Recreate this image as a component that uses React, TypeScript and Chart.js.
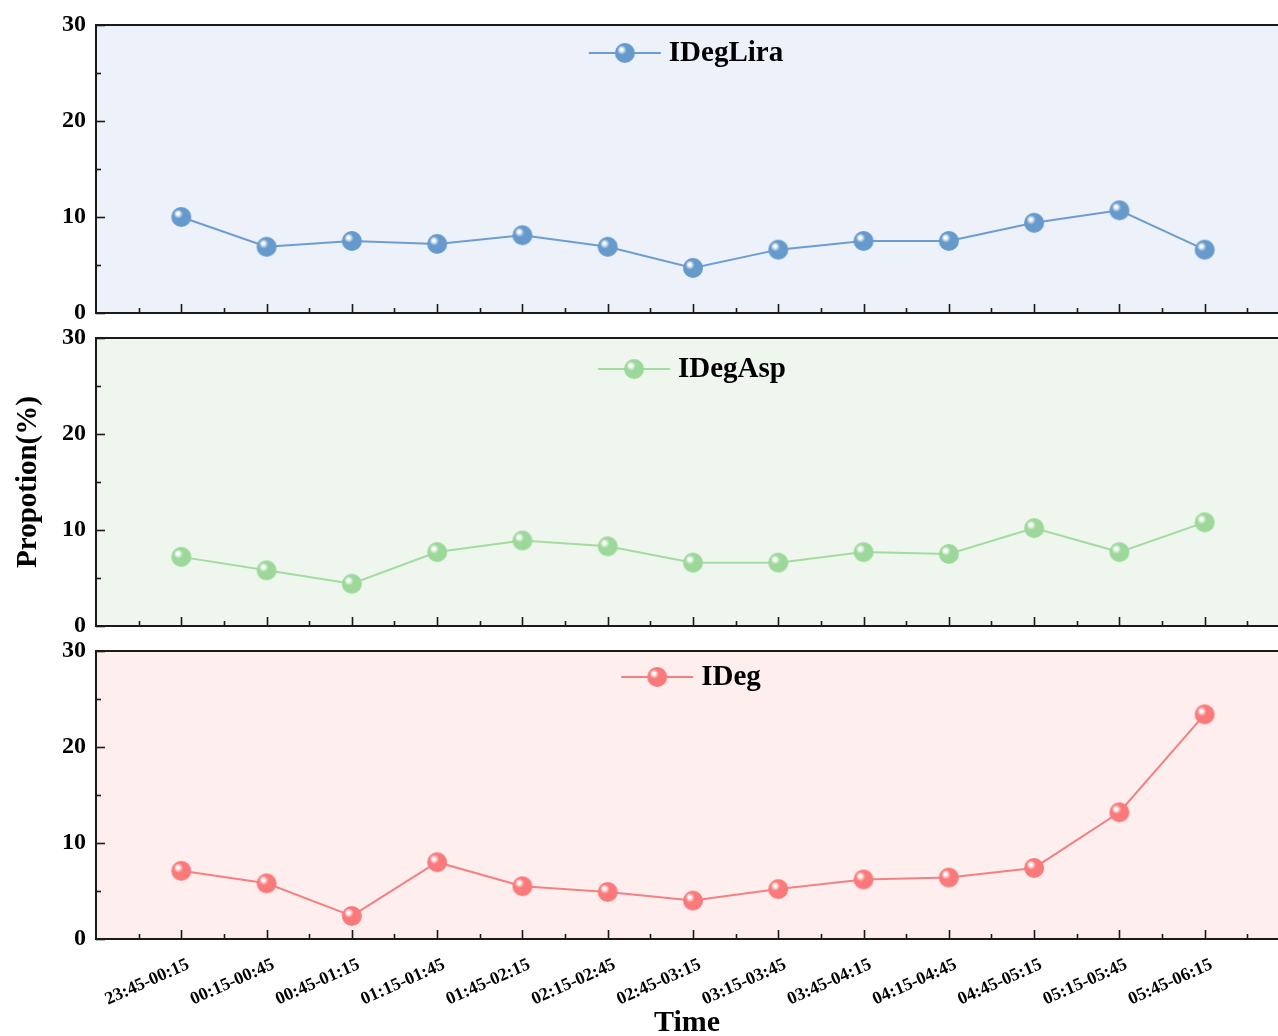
import React, { useEffect, useRef } from 'react';
import { Chart, registerables } from 'chart.js';
Chart.register(...registerables);

const categories = [
  '23:45-00:15', '00:15-00:45', '00:45-01:15', '01:15-01:45', '01:45-02:15',
  '02:15-02:45', '02:45-03:15', '03:15-03:45', '03:45-04:15', '04:15-04:45',
  '04:45-05:15', '05:15-05:45', '05:45-06:15',
];
const iDegLira = [10.0, 6.9, 7.5, 7.2, 8.1, 6.9, 4.7, 6.6, 7.5, 7.5, 9.4, 10.7, 6.6];
const iDegAsp = [7.2, 5.8, 4.4, 7.7, 8.9, 8.3, 6.6, 6.6, 7.7, 7.5, 10.2, 7.7, 10.8];
const iDeg = [7.1, 5.8, 2.4, 8.0, 5.5, 4.9, 4.0, 5.2, 6.2, 6.4, 7.4, 13.2, 23.4];
const yMajorTicks = [0, 10, 20, 30];
const yMinorTicks = [5, 15, 25];
const xAxisTitle = 'Time';
const yAxisTitle = 'Propotion(%)';

const FONT = "'Liberation Serif', 'Times New Roman', serif";

type Panel = {
  name: string;
  data: number[];
  color: string;
  line: string;
  bg: string;
  top: number;
  height: number;
  padTop: number;
  xHeight: number;
  legendDy: number;
  legendCx: number;
  showX: boolean;
  showYTitle: boolean;
};

const panels: Panel[] = [
  { name: 'IDegLira', data: iDegLira, color: '#6699CC', line: '#6C9DD2', bg: '#ECF1FA', top: 0, height: 326, padTop: 25, xHeight: 13, legendDy: 28, legendCx: 686, showX: false, showYTitle: false },
  { name: 'IDegAsp', data: iDegAsp, color: '#9DD89B', line: '#A3DCA1', bg: '#EFF6EE', top: 326, height: 312, padTop: 12, xHeight: 12, legendDy: 31, legendCx: 692, showX: false, showYTitle: true },
  { name: 'IDeg', data: iDeg, color: '#FA7A7C', line: '#F58083', bg: '#FEEEEE', top: 638, height: 398, padTop: 13, xHeight: 97, legendDy: 26, legendCx: 691, showX: true, showYTitle: false },
];

function makeSphere(color: string, r: number): HTMLCanvasElement {
  const size = Math.ceil(r * 2 + 2);
  const c = document.createElement('canvas');
  c.width = size;
  c.height = size;
  const g = c.getContext('2d')!;
  const cx = size / 2, cy = size / 2;
  const grad = g.createRadialGradient(cx - r * 0.35, cy - r * 0.35, 0, cx - r * 0.2, cy - r * 0.2, r * 1.25);
  grad.addColorStop(0, '#ffffff');
  grad.addColorStop(0.1, '#ffffff');
  grad.addColorStop(0.38, color);
  grad.addColorStop(1, color);
  g.fillStyle = grad;
  g.beginPath();
  g.arc(cx, cy, r, 0, Math.PI * 2);
  g.fill();
  return c;
}

const decorPlugin = {
  id: 'panelDecor',
  beforeDraw(chart: any, _args: any, opts: any) {
    const { ctx, chartArea: a } = chart;
    ctx.save();
    ctx.fillStyle = opts.bg;
    ctx.fillRect(a.left, a.top, a.right - a.left, a.bottom - a.top);
    ctx.restore();
  },
  afterDraw(chart: any, _args: any, opts: any) {
    const { ctx, chartArea: a, scales } = chart;
    const xs = scales.x, ys = scales.y;
    const seg = (x1: number, y1: number, x2: number, y2: number) => {
      ctx.beginPath();
      ctx.moveTo(x1, y1);
      ctx.lineTo(x2, y2);
      ctx.stroke();
    };
    ctx.save();
    ctx.strokeStyle = '#1a1a1a';
    ctx.lineWidth = 1.6;
    categories.forEach((_, i) => {
      const px = Math.round(xs.getPixelForValue(i)) + 0.5;
      seg(px, a.bottom, px, a.bottom - 9);
    });
    for (let i = 0; i <= categories.length; i++) {
      const px = Math.round(xs.getPixelForValue(i - 0.5)) + 0.5;
      if (px > a.left + 1 && px < a.right) seg(px, a.bottom, px, a.bottom - 5);
    }
    yMajorTicks.forEach((v) => {
      const py = Math.round(ys.getPixelForValue(v)) + 0.5;
      seg(a.left, py, a.left + 9, py);
    });
    yMinorTicks.forEach((v) => {
      const py = Math.round(ys.getPixelForValue(v)) + 0.5;
      seg(a.left, py, a.left + 5, py);
    });
    ctx.lineWidth = 2;
    seg(a.left, a.top, a.right, a.top);
    seg(a.left, a.bottom, a.right, a.bottom);
    seg(a.left, a.top - 1, a.left, a.bottom + 1);

    // legend
    const label = chart.data.datasets[0].label;
    ctx.font = `bold 29px ${FONT}`;
    const tw = ctx.measureText(label).width;
    const total = 72 + 8 + tw;
    const x0 = opts.legendCx - total / 2;
    const ly = a.top + opts.legendDy;
    ctx.strokeStyle = opts.line;
    ctx.lineWidth = 2;
    seg(x0, ly, x0 + 72, ly);
    const img = opts.sphere as HTMLCanvasElement;
    ctx.drawImage(img, x0 + 36 - img.width / 2, ly - img.height / 2);
    ctx.fillStyle = '#000';
    ctx.textAlign = 'left';
    ctx.textBaseline = 'middle';
    ctx.fillText(label, x0 + 80, ly + 1);
    ctx.restore();
  },
};

function PanelChart({ p }: { p: Panel }) {
  const ref = useRef<HTMLCanvasElement | null>(null);
  useEffect(() => {
    if (!ref.current) return;
    const sphere = makeSphere(p.color, 10);
    const chart = new Chart(ref.current, {
      type: 'line',
      data: {
        datasets: [
          {
            label: p.name,
            data: p.data.map((v, i) => ({ x: i, y: v })),
            borderColor: p.line,
            borderWidth: 2,
            pointStyle: sphere as any,
            pointRadius: 10,
            pointHoverRadius: 10,
            tension: 0,
            fill: false,
          },
        ],
      },
      options: {
        animation: false,
        responsive: false,
        maintainAspectRatio: false,
        devicePixelRatio: 1,
        events: [],
        layout: { padding: { top: p.padTop, left: 0, right: 0, bottom: 0 }, autoPadding: false } as any,
        plugins: {
          legend: { display: false },
          tooltip: { enabled: false },
          panelDecor: { bg: p.bg, line: p.line, legendDy: p.legendDy, legendCx: p.legendCx, sphere } as any,
        } as any,
        scales: {
          x: {
            type: 'linear',
            min: -1,
            max: 12.86,
            grid: { display: false },
            border: { display: false },
            afterBuildTicks: (scale: any) => {
              scale.ticks = categories.map((_, i) => ({ value: i }));
            },
            afterFit: (scale: any) => {
              scale.height = p.xHeight;
              scale.paddingLeft = 0;
              scale.paddingRight = 0;
              scale.paddingTop = 0;
              scale.paddingBottom = 0;
            },
            ticks: {
              display: p.showX,
              autoSkip: false,
              minRotation: 24,
              maxRotation: 24,
              padding: 7,
              labelOffset: 7,
              color: '#000',
              font: { family: FONT, size: 18, weight: 'bold' },
              callback: (v: any) => categories[Math.round(Number(v))] ?? '',
            },
            title: {
              display: p.showX,
              text: xAxisTitle,
              color: '#000',
              font: { family: FONT, size: 30, weight: 'bold', lineHeight: 0.85 },
              padding: { top: 0, bottom: 0 },
            },
          },
          y: {
            type: 'linear',
            min: 0,
            max: 30,
            grid: { display: false, drawTicks: false },
            border: { display: false },
            afterBuildTicks: (scale: any) => {
              scale.ticks = yMajorTicks.map((v) => ({ value: v }));
            },
            afterFit: (scale: any) => {
              scale.width = 96;
              scale.paddingLeft = 0;
              scale.paddingRight = 0;
              scale.paddingTop = 0;
              scale.paddingBottom = 0;
            },
            ticks: {
              padding: 10,
              color: '#000',
              font: { family: FONT, size: 24, weight: 'bold' },
            },
            title: {
              display: p.showYTitle,
              text: yAxisTitle,
              color: '#000',
              font: { family: FONT, size: 29, weight: 'bold', lineHeight: 1 },
              padding: { top: 14, bottom: 0 },
            },
          },
        },
      } as any,
      plugins: [decorPlugin as any],
    });
    return () => chart.destroy();
  }, [p]);
  return (
    <canvas
      ref={ref}
      width={1278}
      height={p.height}
      style={{ position: 'absolute', left: 0, top: p.top, width: 1278, height: p.height, display: 'block' }}
    />
  );
}

export default function App() {
  return (
    <div style={{ position: 'absolute', left: 0, top: 0, width: 1278, height: 1036, background: '#fff', overflow: 'hidden' }}>
      {panels.map((p) => (
        <PanelChart key={p.name} p={p} />
      ))}
    </div>
  );
}
